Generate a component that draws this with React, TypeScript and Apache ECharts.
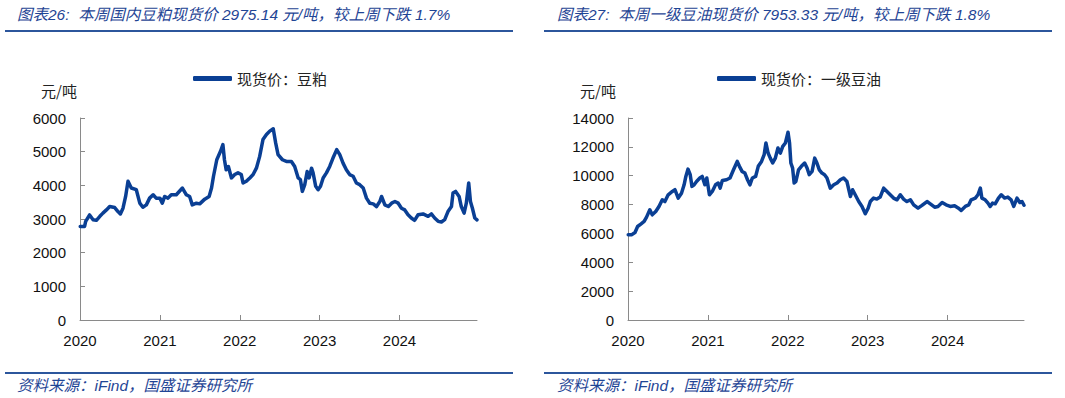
import React, { useEffect, useRef } from "react";
import * as echarts from "echarts";

// ---------- data ----------
const yearTicks = [2020, 2021, 2022, 2023, 2024];

const mealName = "现货价：豆粕";
const mealTitle = "图表26:  本周国内豆粕现货价 2975.14 元/吨，较上周下跌 1.7%";
const mealAxisEnd = "2024-12-21";
const mealYMax = 6000;
const mealYStep = 1000;
const mealDates = [
  "2020-01-02", "2020-01-22", "2020-01-27", "2020-02-14", "2020-03-01", "2020-03-16", "2020-04-01", "2020-04-15",
  "2020-05-01", "2020-05-16", "2020-06-08", "2020-06-23", "2020-07-04", "2020-07-16", "2020-07-28", "2020-08-08",
  "2020-08-23", "2020-09-15", "2020-10-01", "2020-10-15", "2020-10-31", "2020-11-15", "2020-12-01", "2020-12-15",
  "2021-01-01", "2021-01-12", "2021-01-23", "2021-02-07", "2021-02-22", "2021-03-17", "2021-04-14", "2021-05-02",
  "2021-05-17", "2021-05-29", "2021-06-17", "2021-07-02", "2021-07-25", "2021-08-14", "2021-08-25", "2021-09-03",
  "2021-09-18", "2021-10-05", "2021-10-16", "2021-10-23", "2021-10-31", "2021-11-10", "2021-11-24", "2021-12-09",
  "2021-12-24", "2022-01-08", "2022-01-16", "2022-01-31", "2022-02-16", "2022-03-03", "2022-03-18", "2022-04-02",
  "2022-04-17", "2022-05-03", "2022-05-18", "2022-06-03", "2022-06-14", "2022-06-25", "2022-07-15", "2022-08-02",
  "2022-08-25", "2022-09-09", "2022-09-25", "2022-10-05", "2022-10-14", "2022-10-25", "2022-11-05", "2022-11-14",
  "2022-11-25", "2022-12-02", "2022-12-14", "2022-12-25", "2023-01-05", "2023-01-17", "2023-02-01", "2023-02-16",
  "2023-03-03", "2023-03-20", "2023-04-03", "2023-04-18", "2023-05-03", "2023-05-18", "2023-06-03", "2023-06-18",
  "2023-07-03", "2023-07-19", "2023-08-03", "2023-08-18", "2023-09-03", "2023-09-18", "2023-10-03", "2023-10-11",
  "2023-10-26", "2023-11-11", "2023-11-26", "2023-12-11", "2023-12-26", "2024-01-10", "2024-01-25", "2024-02-09",
  "2024-02-24", "2024-03-10", "2024-03-26", "2024-04-18", "2024-05-11", "2024-05-26", "2024-06-10", "2024-06-26",
  "2024-07-11", "2024-07-26", "2024-08-10", "2024-08-26", "2024-09-02", "2024-09-14", "2024-09-30", "2024-10-10",
  "2024-10-23", "2024-11-02", "2024-11-13", "2024-11-21", "2024-11-30", "2024-12-11", "2024-12-21",
];
const mealValues = [
  2780, 2780, 2930, 3120, 2980, 2960, 3080, 3175,
  3270, 3370, 3340, 3220, 3150, 3320, 3670, 4120,
  3920, 3870, 3470, 3350, 3420, 3620, 3720, 3620,
  3620, 3470, 3670, 3620, 3720, 3720, 3920, 3720,
  3670, 3420, 3470, 3450, 3590, 3670, 3920, 4270,
  4760, 5010, 5210, 4760, 4460, 4560, 4220, 4320,
  4370, 4320, 4070, 4120, 4220, 4320, 4510, 4860,
  5360, 5510, 5610, 5680, 5260, 4910, 4760, 4710,
  4710, 4560, 4220, 4170, 3820, 4020, 4410, 4220,
  4510, 4370, 3970, 3870, 3970, 4220, 4370, 4560,
  4810, 5060, 4910, 4660, 4460, 4320, 4270, 4070,
  4020, 3920, 3620, 3470, 3450, 3370, 3520, 3670,
  3420, 3370, 3470, 3520, 3470, 3320, 3270, 3125,
  3030, 2960, 3125, 3150, 3080, 3150, 3030, 2930,
  2910, 2980, 3220, 3370, 3770, 3820, 3670, 3370,
  3175, 3470, 4070, 3520, 3320, 3030, 2975,
];

const oilName = "现货价：一级豆油";
const oilTitle = "图表27:  本周一级豆油现货价 7953.33 元/吨，较上周下跌 1.8%";
const oilAxisEnd = "2024-12-16";
const oilYMax = 14000;
const oilYStep = 2000;
const oilDates = [
  "2020-01-02", "2020-01-17", "2020-02-02", "2020-02-14", "2020-03-01", "2020-03-15", "2020-03-26", "2020-04-10",
  "2020-04-21", "2020-05-07", "2020-05-22", "2020-06-06", "2020-06-18", "2020-07-03", "2020-07-22", "2020-08-03",
  "2020-08-18", "2020-09-02", "2020-09-14", "2020-09-22", "2020-10-02", "2020-10-12", "2020-10-20", "2020-10-30",
  "2020-11-10", "2020-11-25", "2020-12-06", "2020-12-18", "2020-12-27", "2021-01-08", "2021-01-21", "2021-02-05",
  "2021-02-17", "2021-02-26", "2021-03-08", "2021-03-27", "2021-04-12", "2021-04-28", "2021-05-15", "2021-05-25",
  "2021-06-06", "2021-06-19", "2021-07-01", "2021-07-12", "2021-07-23", "2021-08-07", "2021-08-19", "2021-09-03",
  "2021-09-15", "2021-09-23", "2021-10-03", "2021-10-13", "2021-10-24", "2021-11-05", "2021-11-17", "2021-11-28",
  "2021-12-09", "2021-12-21", "2022-01-02", "2022-01-09", "2022-01-15", "2022-01-23", "2022-01-30", "2022-02-07",
  "2022-02-19", "2022-03-04", "2022-03-19", "2022-03-30", "2022-04-09", "2022-04-22", "2022-05-04", "2022-05-14",
  "2022-05-25", "2022-06-06", "2022-06-18", "2022-06-29", "2022-07-14", "2022-07-30", "2022-08-14", "2022-08-29",
  "2022-09-13", "2022-09-28", "2022-10-14", "2022-10-24", "2022-11-05", "2022-11-21", "2022-12-06", "2022-12-21",
  "2023-01-03", "2023-01-13", "2023-01-28", "2023-02-12", "2023-02-27", "2023-03-15", "2023-03-30", "2023-04-14",
  "2023-04-29", "2023-05-15", "2023-05-30", "2023-06-14", "2023-06-29", "2023-07-15", "2023-07-30", "2023-08-19",
  "2023-09-06", "2023-09-29", "2023-10-14", "2023-11-03", "2023-11-18", "2023-12-07", "2023-12-25", "2024-01-13",
  "2024-02-02", "2024-02-20", "2024-03-03", "2024-03-22", "2024-04-07", "2024-04-18", "2024-05-07", "2024-05-19",
  "2024-05-30", "2024-06-06", "2024-06-21", "2024-07-04", "2024-07-14", "2024-07-25", "2024-08-06", "2024-08-21",
  "2024-09-03", "2024-09-18", "2024-10-03", "2024-10-18", "2024-10-30", "2024-11-14", "2024-11-27", "2024-12-07",
  "2024-12-16",
];
const oilValues = [
  5900, 5900, 6060, 6480, 6660, 6830, 7130, 7640,
  7290, 7520, 7870, 8330, 8210, 8680, 8910, 9030,
  8450, 8790, 9370, 9950, 10460, 10070, 9260, 9370,
  9600, 9840, 9950, 9370, 9840, 8680, 8910, 9370,
  9490, 9140, 9670, 9720, 9840, 10410, 10990, 10650,
  10300, 10180, 9720, 9370, 9840, 9950, 10650, 10990,
  11460, 12270, 11570, 11220, 10880, 11220, 11920, 11570,
  12030, 12270, 13010, 12270, 10880, 10530, 9490, 9600,
  10410, 10650, 10880, 10530, 10070, 10300, 11220, 10880,
  10410, 10180, 10070, 9840, 9140, 9370, 9490, 9720,
  9840, 9600, 8560, 9030, 8680, 8210, 7870, 7360,
  7750, 8210, 8450, 8380, 8520, 9140, 8910, 8680,
  8450, 8330, 8680, 8380, 8210, 8330, 7980, 7750,
  7940, 8210, 8050, 7820, 7870, 8140, 7980, 7870,
  7920, 7750, 7590, 7870, 7980, 8330, 8450, 8680,
  9140, 8450, 8330, 8100, 7870, 8100, 8050, 8450,
  8680, 8450, 8520, 8330, 7870, 8450, 8140, 8210,
  7953,
];

const sourceText = "资料来源：iFind，国盛证券研究所";
const unitText = "元/吨";

// ---------- helpers ----------
function toYear(d: string): number {
  const [y, m, dd] = d.split("-").map(Number);
  const start = Date.UTC(y, 0, 1);
  const end = Date.UTC(y + 1, 0, 1);
  return y + (Date.UTC(y, m - 1, dd) - start) / (end - start);
}

const lineColor = "#0a3f94";
const ruleColor = "#2c569c";
const titleColor = "#1f4595";
const axisColor = "#8a8a8a";
const numFont = "'Liberation Sans', Arial, sans-serif";
const cjkFont = "'Noto Sans CJK SC', sans-serif";
const mixFont = "'Liberation Sans', 'Noto Sans CJK SC', sans-serif";

function xAxisCfg(gridIndex: number, end: string) {
  return {
    gridIndex,
    type: "value",
    min: 2020,
    max: toYear(end),
    interval: 1,
    axisLine: { show: true, onZero: false, lineStyle: { color: axisColor, width: 1 } },
    axisTick: { show: true, inside: true, length: 5, customValues: yearTicks, lineStyle: { color: axisColor } },
    axisLabel: {
      customValues: yearTicks,
      margin: 13,
      fontFamily: numFont,
      fontSize: 15,
      color: "#111",
      formatter: (v: number) => String(Math.round(v)),
    },
    splitLine: { show: false },
  };
}

function yAxisCfg(gridIndex: number, max: number, step: number) {
  return {
    gridIndex,
    type: "value",
    min: 0,
    max,
    interval: step,
    axisLine: { show: true, lineStyle: { color: axisColor, width: 1 } },
    axisTick: { show: true, inside: true, length: 5, lineStyle: { color: axisColor } },
    axisLabel: {
      margin: 14,
      fontFamily: numFont,
      fontSize: 15,
      color: "#111",
      formatter: (v: number) => String(v),
    },
    splitLine: { show: false },
  };
}

function legendCfg(name: string, left: number) {
  return {
    data: [name],
    left,
    top: 70,
    icon: "roundRect",
    itemWidth: 39,
    itemHeight: 5,
    itemGap: 10,
    padding: 0,
    textStyle: { fontFamily: cjkFont, fontSize: 15, color: "#222", lineHeight: 17 },
  };
}

function textEl(text: string, x: number, y: number, font: string, fill: string) {
  return {
    type: "text",
    x,
    y,
    silent: true,
    style: { text, font, fill, verticalAlign: "middle", align: "left" },
  };
}

function ruleEl(x1: number, x2: number, y: number) {
  return {
    type: "line",
    silent: true,
    shape: { x1, y1: y, x2, y2: y },
    style: { stroke: ruleColor, lineWidth: 2 },
  };
}

export default function App() {
  const ref = useRef<HTMLDivElement>(null);

  useEffect(() => {
    if (!ref.current) return;
    const chart = echarts.init(ref.current, undefined, { renderer: "svg" });
    const option: any = {
      animation: false,
      backgroundColor: "#ffffff",
      grid: [
        { left: 80, top: 118, width: 397, height: 202 },
        { left: 628, top: 118, width: 396, height: 202 },
      ],
      xAxis: [xAxisCfg(0, mealAxisEnd), xAxisCfg(1, oilAxisEnd)],
      yAxis: [yAxisCfg(0, mealYMax, mealYStep), yAxisCfg(1, oilYMax, oilYStep)],
      legend: [legendCfg(mealName, 193), legendCfg(oilName, 717)],
      series: [
        {
          name: mealName,
          type: "line",
          xAxisIndex: 0,
          yAxisIndex: 0,
          data: mealDates.map((d, i) => [toYear(d), mealValues[i]]),
          showSymbol: false,
          symbol: "none",
          color: lineColor,
          lineStyle: { width: 3.5, color: lineColor, join: "round", cap: "round" },
        },
        {
          name: oilName,
          type: "line",
          xAxisIndex: 1,
          yAxisIndex: 1,
          data: oilDates.map((d, i) => [toYear(d), oilValues[i]]),
          showSymbol: false,
          symbol: "none",
          color: lineColor,
          lineStyle: { width: 3.5, color: lineColor, join: "round", cap: "round" },
        },
      ],
      graphic: [
        textEl(mealTitle, 17, 14, `italic 15.5px ${mixFont}`, titleColor),
        textEl(oilTitle, 557, 14, `italic 15.5px ${mixFont}`, titleColor),
        ruleEl(5, 513, 31),
        ruleEl(544, 1052, 31),
        textEl(unitText, 41, 90, `15px ${cjkFont}`, "#222"),
        textEl(unitText, 580, 90, `15px ${cjkFont}`, "#222"),
        ruleEl(5, 513, 373),
        ruleEl(544, 1052, 373),
        textEl(sourceText, 17, 385, `italic 15.5px ${mixFont}`, titleColor),
        textEl(sourceText, 557, 385, `italic 15.5px ${mixFont}`, titleColor),
      ],
    };
    chart.setOption(option);
    return () => chart.dispose();
  }, []);

  return (
    <div
      ref={ref}
      style={{ position: "absolute", left: 0, top: 0, width: 1065, height: 398, background: "#fff" }}
    />
  );
}
